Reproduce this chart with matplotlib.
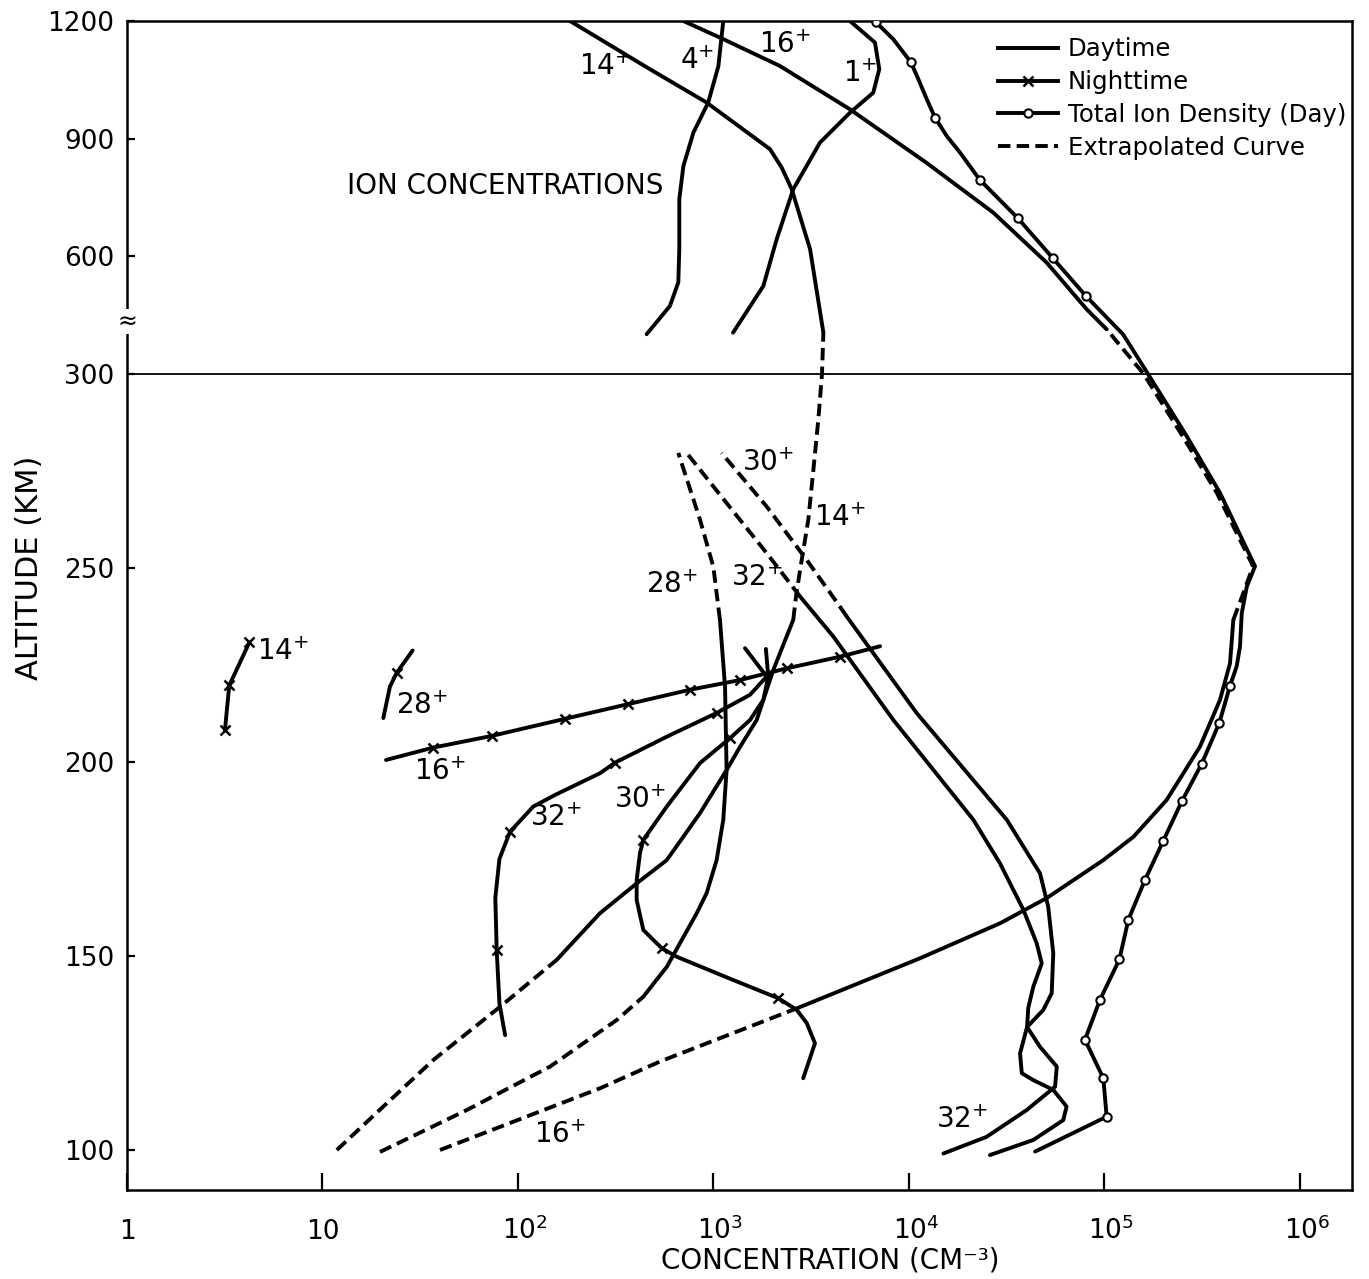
import numpy as np
import matplotlib
matplotlib.use("Agg")
import matplotlib.pyplot as plt
from matplotlib.lines import Line2D
from matplotlib.ticker import NullLocator
from matplotlib.transforms import ScaledTranslation

# ---------------------------------------------------------------------------
# Ion concentration profiles: altitude (km) and log10 concentration (cm^-3)
# ---------------------------------------------------------------------------

# Daytime H+ (1+), upper region only
h_day_alt = [405, 524, 643, 771, 890, 966, 1017, 1077, 1145, 1200]
h_day_log = [3.10, 3.255, 3.323, 3.408, 3.545, 3.698, 3.817, 3.848, 3.826, 3.698]

# Daytime He+ (4+), upper region only
he_day_alt = [401, 473, 533, 618, 745, 830, 915, 992, 1085, 1200]
he_day_log = [2.658, 2.777, 2.820, 2.825, 2.825, 2.846, 2.897, 2.973, 3.025, 3.050]

# Daytime N+ (14+)
n_day_alt = [100.0, 111.2, 123.2, 136.9, 149.0, 161.0, 168.7, 174.7, 186.8, 197.9,
             203.9, 210.8, 223.7, 236.6, 242.6, 249.5, 262.4, 275.3, 288.1, 300.0,
             405.0, 618.0, 771.0, 826.0, 873.0, 898.0, 992.0, 1077.0, 1200.0]
n_day_log = [1.073, 1.311, 1.567, 1.908, 2.198, 2.419, 2.607, 2.761, 2.931, 3.067,
             3.136, 3.221, 3.306, 3.408, 3.422, 3.443, 3.485, 3.511, 3.536, 3.555,
             3.562, 3.494, 3.400, 3.349, 3.289, 3.221, 2.965, 2.675, 2.266]
n_day_measured = [(149.0, 236.6), (405.0, 1200.0)]

# Daytime O+ (16+)
o_day_alt = [100.0, 115.9, 122.8, 136.5, 149.4, 152.8, 158.4, 164.9, 174.7, 180.7,
             190.2, 203.9, 216.0, 225.4, 236.6, 242.8, 250.4, 269.3, 283.9, 300.0,
             413.5, 464.5, 583.7, 711.2, 838.8, 974.7, 1085.2, 1157.7, 1200.0]
o_day_log = [1.601, 2.419, 2.726, 3.426, 4.056, 4.210, 4.465, 4.704, 4.994, 5.148,
             5.318, 5.488, 5.591, 5.642, 5.659, 5.705, 5.760, 5.575, 5.400, 5.200,
             5.011, 4.909, 4.704, 4.431, 4.088, 3.698, 3.340, 3.033, 2.846]
o_day_measured = [(136.5, 236.6), (413.5, 1200.0)]

# Daytime N2+ (28+)
n2_day_alt = [99.5, 110.3, 121.5, 133.5, 139.5, 147.2, 161.0, 166.2, 174.7, 185.1,
              197.9, 219.4, 236.6, 250.3, 262.4, 279.6]
n2_day_log = [1.294, 1.738, 2.164, 2.505, 2.641, 2.761, 2.914, 2.965, 3.016, 3.050,
              3.067, 3.059, 3.033, 2.999, 2.931, 2.820]
n2_day_measured = [(139.5, 236.6)]

# Daytime O2+ (32+)
o2_day_alt = [99.1, 103.4, 110.3, 116.3, 121.5, 126.6, 131.7, 136.6, 142.1, 148.1,
              153.3, 161.9, 173.9, 185.1, 210.8, 232.3, 242.6, 253.8, 266.7, 279.6]
o2_day_log = [4.176, 4.397, 4.602, 4.747, 4.756, 4.670, 4.604, 4.610, 4.636, 4.679,
              4.653, 4.585, 4.465, 4.329, 3.920, 3.613, 3.443, 3.272, 3.067, 2.863]
o2_day_measured = [(99.0, 242.6)]

# Daytime NO+ (30+)
no_day_alt = [98.7, 102.6, 107.7, 111.2, 115.5, 118.0, 119.8, 124.9, 131.7, 136.1,
              140.4, 150.7, 162.7, 171.3, 185.1, 212.6, 237.5, 240.0, 252.1, 265.8, 279.6]
no_day_log = [4.414, 4.636, 4.789, 4.806, 4.738, 4.636, 4.577, 4.568, 4.604, 4.687,
              4.730, 4.738, 4.712, 4.670, 4.500, 4.039, 3.681, 3.647, 3.476, 3.272, 3.041]
no_day_measured = [(98.0, 237.5)]

# Total ion density (day)
total_alt = [99.6, 108.6, 118.5, 128.4, 138.7, 149.1, 159.3, 169.6, 179.7, 189.8,
             199.5, 210.0, 219.6, 224.6, 229.7, 238.3, 245.2, 250.4, 269.3, 283.9,
             300.0, 400.0, 498.5, 595.4, 697.4, 794.4, 864.3, 906.6, 953.6, 1000.3,
             1051.3, 1095.4, 1153.3, 1197.0]
total_log = [4.645, 5.011, 4.994, 4.900, 4.977, 5.076, 5.122, 5.207, 5.301, 5.395,
             5.497, 5.587, 5.642, 5.676, 5.693, 5.702, 5.728, 5.770, 5.591, 5.421,
             5.222, 5.096, 4.905, 4.735, 4.556, 4.363, 4.261, 4.193, 4.133, 4.091,
             4.048, 4.009, 3.920, 3.831]
total_points = [1, 2, 3, 4, 5, 6, 7, 8, 9, 10, 11, 12, 22, 23, 24, 25, 28, 31, 33]

# Nighttime profiles
o_night_alt = [200.5, 203.7, 206.7, 211.1, 214.9, 218.6, 221.1, 224.1, 227.1, 229.8]
o_night_log = [1.325, 1.567, 1.866, 2.240, 2.564, 2.880, 3.136, 3.374, 3.647, 3.852]
o_night_points = [1, 2, 3, 4, 5, 6, 7, 8]

o2_night_alt = [129.6, 137.8, 151.5, 165.0, 175.0, 182.0, 188.5, 191.5, 197.1, 199.8,
                206.5, 212.6, 217.3, 222.0, 229.3]
o2_night_log = [1.934, 1.905, 1.891, 1.884, 1.905, 1.959, 2.078, 2.190, 2.420, 2.496,
                2.761, 3.016, 3.187, 3.272, 3.161]
o2_night_points = [2, 5, 9, 11]

no_night_alt = [118.5, 127.5, 132.7, 136.1, 139.1, 143.8, 149.8, 152.0, 156.7, 164.4,
                169.6, 176.5, 179.9, 188.5, 199.7, 206.1, 210.8, 216.0, 222.0, 229.1]
no_night_log = [3.459, 3.519, 3.477, 3.426, 3.332, 3.101, 2.812, 2.735, 2.641, 2.607,
                2.607, 2.624, 2.641, 2.761, 2.931, 3.084, 3.187, 3.255, 3.280, 3.268]
no_night_points = [4, 7, 12, 15]

n2_night_alt = [211.3, 219.4, 223.0, 228.7]
n2_night_log = [1.311, 1.345, 1.380, 1.461]
n2_night_points = [2]

n_night_alt = [208.2, 219.7, 230.8]
n_night_log = [0.501, 0.523, 0.626]
n_night_points = [0, 1, 2]

# Curve labels: (text, log10 concentration, altitude)
curve_labels = [
    ("$14^{+}$", 2.445, 1082), ("$4^{+}$", 2.916, 1097), ("$16^{+}$", 3.366, 1140),
    ("$1^{+}$", 3.749, 1064),
    ("$30^{+}$", 3.279, 277.1), ("$14^{+}$", 3.647, 262.9), ("$28^{+}$", 2.788, 245.6),
    ("$32^{+}$", 3.223, 247.4), ("$14^{+}$", 0.798, 228.4), ("$28^{+}$", 1.509, 214.4),
    ("$16^{+}$", 1.601, 197.4), ("$32^{+}$", 2.194, 185.6), ("$30^{+}$", 2.624, 190.2),
    ("$16^{+}$", 2.215, 103.9), ("$32^{+}$", 4.271, 107.7),
]

x_ticks = [1, 10, 100, 1e3, 1e4, 1e5, 1e6]
x_tick_labels = ["1", "10", "10$^2$", "10$^3$", "10$^4$", "10$^5$", "10$^6$"]
y_ticks = [100, 150, 200, 250, 300, 600, 900, 1200]

# ---------------------------------------------------------------------------
LW = 2.8
DASH = (0, (3.2, 1.6))
BREAK = 300.0
K = 0.101  # compression of the altitude axis above the break


def fwd(a):
    a = np.asarray(a, dtype=float)
    return np.where(a <= BREAK, a, BREAK + (a - BREAK) * K)


def inv(v):
    v = np.asarray(v, dtype=float)
    return np.where(v <= BREAK, v, BREAK + (v - BREAK) / K)


def draw_profile(ax, alt, logc, measured):
    """Solid where measured, dashed where extrapolated."""
    alt = np.asarray(alt, dtype=float)
    conc = 10.0 ** np.asarray(logc, dtype=float)
    mids = 0.5 * (alt[:-1] + alt[1:])
    solid = [any(lo <= m <= hi for lo, hi in measured) for m in mids]
    start = 0
    for i in range(1, len(solid) + 1):
        if i == len(solid) or solid[i] != solid[start]:
            seg = slice(start, i + 1)
            ax.plot(conc[seg], alt[seg], color="k", lw=LW,
                    ls="-" if solid[start] else DASH,
                    solid_capstyle="round", solid_joinstyle="round",
                    dash_capstyle="butt")
            start = i


def draw_night(ax, alt, logc, points):
    ax.plot(10.0 ** np.asarray(logc), alt, color="k", lw=LW,
            marker="x", ms=7, mew=1.8, markevery=points,
            solid_capstyle="round", solid_joinstyle="round")


fig = plt.figure(figsize=(13.69, 12.79), dpi=100)
ax = fig.add_axes([127 / 1369, 89 / 1279, 1225 / 1369, 1169 / 1279])
ax.set_xscale("log")
ax.set_yscale("function", functions=(fwd, inv))
ax.set_xlim(1, 10 ** 6.266)
ax.set_ylim(89.7, 1200)

# upper-region daytime light ions
ax.plot(10.0 ** np.asarray(h_day_log), h_day_alt, color="k", lw=LW,
        solid_capstyle="round", solid_joinstyle="round")
ax.plot(10.0 ** np.asarray(he_day_log), he_day_alt, color="k", lw=LW,
        solid_capstyle="round", solid_joinstyle="round")

draw_profile(ax, n_day_alt, n_day_log, n_day_measured)
draw_profile(ax, o_day_alt, o_day_log, o_day_measured)
draw_profile(ax, n2_day_alt, n2_day_log, n2_day_measured)
draw_profile(ax, o2_day_alt, o2_day_log, o2_day_measured)
draw_profile(ax, no_day_alt, no_day_log, no_day_measured)

ax.plot(10.0 ** np.asarray(total_log), total_alt, color="k", lw=LW,
        marker="o", ms=6, mfc="white", mec="k", mew=1.5, markevery=total_points,
        solid_capstyle="round", solid_joinstyle="round", zorder=3)

draw_night(ax, o_night_alt, o_night_log, o_night_points)
draw_night(ax, o2_night_alt, o2_night_log, o2_night_points)
draw_night(ax, no_night_alt, no_night_log, no_night_points)
draw_night(ax, n2_night_alt, n2_night_log, n2_night_points)
draw_night(ax, n_night_alt, n_night_log, n_night_points)

ax.axhline(BREAK, color="k", lw=1.3)

for txt, lc, a in curve_labels:
    ax.text(10 ** lc, a, txt, ha="center", va="center", fontsize=20)
ax.text(10 ** 1.934, 778, "ION CONCENTRATIONS", ha="center", va="center", fontsize=20)

# axis break mark on the altitude axis
ax.text(0, 434, "\u2248", transform=ax.get_yaxis_transform(), ha="center",
        va="center", fontsize=17,
        bbox=dict(fc="white", ec="none", pad=0.3), zorder=5, clip_on=False)

ax.set_xticks(x_ticks)
ax.set_xticklabels(x_tick_labels)
ax.xaxis.set_minor_locator(NullLocator())
ax.set_yticks(y_ticks)
ax.set_yticklabels([str(v) for v in y_ticks])
ax.yaxis.set_minor_locator(NullLocator())
ax.tick_params(axis="x", direction="in", length=12, width=1.6, labelsize=19, pad=35)
ax.tick_params(axis="y", direction="in", length=6, width=1.6, labelsize=19, pad=9)
shift = ScaledTranslation(5 / 72, 0, fig.dpi_scale_trans)
for i, lab in enumerate(ax.get_xticklabels()):
    lab.set_verticalalignment("baseline")
    if i >= 2:
        lab.set_transform(lab.get_transform() + shift)
for sp in ax.spines.values():
    sp.set_linewidth(1.8)

fig.text(30 / 1369, 1 - 568 / 1279, "ALTITUDE (KM)", rotation=90,
         ha="center", va="center", fontsize=22)
fig.text(830 / 1369, 1 - 1261 / 1279, "CONCENTRATION (CM\u207b\u00b3)",
         ha="center", va="center", fontsize=20)

handles = [
    Line2D([], [], color="k", lw=LW),
    Line2D([], [], color="k", lw=LW, marker="x", ms=7, mew=1.8),
    Line2D([], [], color="k", lw=LW, marker="o", ms=6, mfc="white", mew=1.5),
    Line2D([], [], color="k", lw=LW, ls=DASH),
]
ax.legend(handles, ["Daytime", "Nighttime", "Total Ion Density (Day)", "Extrapolated Curve"],
          loc="upper left", bbox_to_anchor=(0.711, 0.986), frameon=False,
          fontsize=17.6, handlelength=2.45, handletextpad=0.4, labelspacing=0.36,
          borderpad=0, borderaxespad=0)

fig.savefig("out.png", dpi=100, facecolor="white")
